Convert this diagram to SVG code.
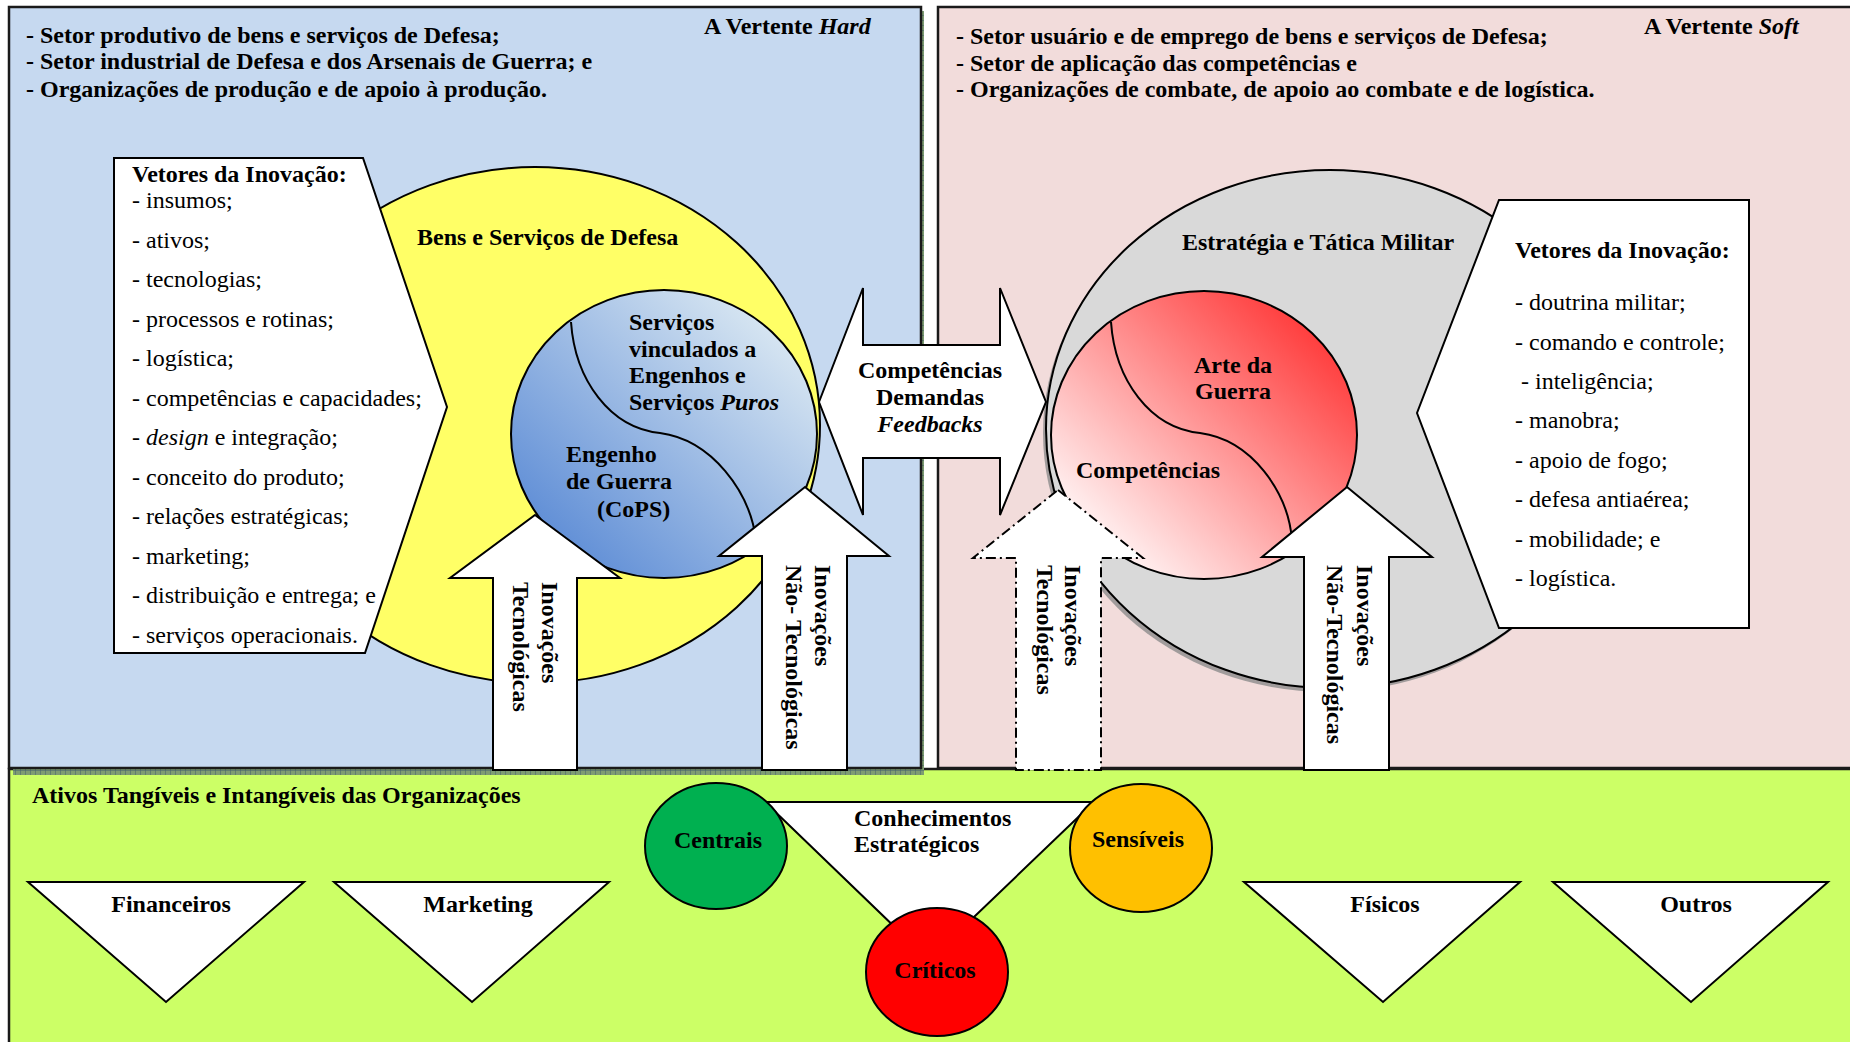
<svg xmlns="http://www.w3.org/2000/svg" width="1850" height="1042" viewBox="0 0 1850 1042">
<defs>
  <linearGradient id="gBlue" x1="0.1" y1="0.9" x2="0.9" y2="0.1">
    <stop offset="0" stop-color="#5A8AD5"/>
    <stop offset="1" stop-color="#DDEAF3"/>
  </linearGradient>
  <linearGradient id="gRed" x1="0.1" y1="0.9" x2="0.9" y2="0.1">
    <stop offset="0" stop-color="#FFFFFF"/>
    <stop offset="1" stop-color="#FF3333"/>
  </linearGradient>
  <pattern id="hatch" width="5" height="5" patternUnits="userSpaceOnUse">
    <rect width="5" height="5" fill="#7E9C72"/>
    <path d="M0,0H5M0,0V5" stroke="#41606C" stroke-width="1"/>
  </pattern>
</defs>
<style>
  text { font-family: "Liberation Serif", "Times New Roman", serif; font-size: 24px; fill: #000; }
  .b { font-weight: bold; }
  .i { font-style: italic; }
  .c { text-anchor: middle; }
  .ol { stroke: #000; stroke-width: 2; }
  .panel { stroke: #1a1a1a; stroke-width: 2.5; }
  .wh { fill: #FFFFFF; stroke: #000; stroke-width: 2; }
  .curve { fill: none; stroke: #000; stroke-width: 2; }
</style>

<g id="panels">
  <rect id="panel-green" x="9" y="769" width="1850" height="280" fill="#CCFF66" class="panel"/>
  <rect id="panel-pink" x="938" y="7" width="920" height="761" fill="#F2DCDB" class="panel"/>
  <rect x="13" y="11" width="911" height="764" fill="url(#hatch)"/>
  <rect id="panel-blue" x="9" y="7" width="912" height="761" fill="#C6D9F0" class="panel"/>
</g>

<g id="hard-header">
  <text class="b" x="26" y="43">- Setor produtivo de bens e serviços de Defesa;</text>
  <text class="b" x="26" y="69">- Setor industrial de Defesa e dos Arsenais de Guerra; e</text>
  <text class="b" x="26" y="97">- Organizações de produção e de apoio à produção.</text>
  <text class="b" x="704" y="34">A Vertente <tspan class="i">Hard</tspan></text>
</g>

<g id="soft-header">
  <text class="b" x="956" y="44">- Setor usuário e de emprego de bens e serviços de Defesa;</text>
  <text class="b" x="956" y="71">- Setor de aplicação das competências e</text>
  <text class="b" x="956" y="97">- Organizações de combate, de apoio ao combate e de logística.</text>
  <text class="b" x="1644" y="34">A Vertente <tspan class="i">Soft</tspan></text>
</g>

<g id="bens-servicos">
  <ellipse cx="535" cy="425" rx="285" ry="258" fill="#FFFF66" class="ol"/>
  <text class="b" x="417" y="245">Bens e Serviços de Defesa</text>
</g>

<g id="engenho">
  <ellipse cx="664" cy="434" rx="153" ry="144" fill="url(#gBlue)" class="ol"/>
  <path class="curve" d="M571,322 C575,380 610,428 660,433 C712,440 750,492 756,540"/>
  <text class="b" x="629" y="330">Serviços</text>
  <text class="b" x="629" y="357">vinculados a</text>
  <text class="b" x="629" y="383">Engenhos e</text>
  <text class="b" x="629" y="410">Serviços <tspan class="i">Puros</tspan></text>
  <text class="b" x="566" y="462">Engenho</text>
  <text class="b" x="566" y="489">de Guerra</text>
  <text class="b" x="597" y="517">(CoPS)</text>
</g>

<g id="vetores-hard">
  <polygon class="wh" points="114,158 363,158 447,407 365,653 114,653"/>
  <text class="b" x="132" y="182">Vetores da Inovação:</text>
  <text x="132" y="208">- insumos;</text>
  <text x="132" y="247.5">- ativos;</text>
  <text x="132" y="287">- tecnologias;</text>
  <text x="132" y="326.5">- processos e rotinas;</text>
  <text x="132" y="366">- logística;</text>
  <text x="132" y="405.5">- competências e capacidades;</text>
  <text x="132" y="445">- <tspan class="i">design</tspan> e integração;</text>
  <text x="132" y="484.5">- conceito do produto;</text>
  <text x="132" y="524">- relações estratégicas;</text>
  <text x="132" y="563.5">- marketing;</text>
  <text x="132" y="603">- distribuição e entrega; e</text>
  <text x="132" y="642.5">- serviços operacionais.</text>
</g>

<g id="estrategia">
  <ellipse cx="1327" cy="433" rx="284" ry="259" fill="#8C8C8C" opacity="0.8"/>
  <ellipse cx="1330" cy="429" rx="284" ry="259" fill="#D9D9D9" class="ol"/>
  <text class="b" x="1182" y="250">Estratégia e Tática Militar</text>
</g>

<g id="arte-guerra">
  <ellipse cx="1204" cy="435" rx="153" ry="144" fill="url(#gRed)" class="ol"/>
  <path class="curve" d="M1111,322 C1115,380 1150,428 1200,433 C1252,440 1288,492 1292,540"/>
  <text class="b c" x="1233" y="373">Arte da</text>
  <text class="b c" x="1233" y="399">Guerra</text>
  <text class="b" x="1076" y="478">Competências</text>
</g>

<g id="vetores-soft">
  <polygon class="wh" points="1499,200 1749,200 1749,628 1499,628 1417,413"/>
  <text class="b" x="1515" y="258">Vetores da Inovação:</text>
  <text x="1515" y="310">- doutrina militar;</text>
  <text x="1515" y="350">- comando e controle;</text>
  <text x="1521" y="389">- inteligência;</text>
  <text x="1515" y="428">- manobra;</text>
  <text x="1515" y="468">- apoio de fogo;</text>
  <text x="1515" y="507">- defesa antiaérea;</text>
  <text x="1515" y="547">- mobilidade; e</text>
  <text x="1515" y="586">- logística.</text>
</g>

<g id="connectors">
  <g id="arrow-competencias">
    <polygon class="wh" points="819,402 863,288 863,345 1000,345 1000,288 1046,402 1000,515 1000,458 863,458 863,515"/>
    <text class="b c" x="930" y="378">Competências</text>
    <text class="b c" x="930" y="405">Demandas</text>
    <text class="b c i" x="930" y="432">Feedbacks</text>
  </g>
  <g id="arrow-tec-hard">
    <polygon class="wh" points="535,515 620,578 577,578 577,770 493,770 493,578 450,578"/>
    <text class="b" transform="translate(542,582) rotate(90)">Inovações</text>
    <text class="b" transform="translate(513,582) rotate(90)">Tecnológicas</text>
  </g>
  <g id="arrow-naotec-hard">
    <polygon class="wh" points="805,487 889,556 847,556 847,770 762,770 762,556 719,556"/>
    <text class="b" transform="translate(815,565) rotate(90)">Inovações</text>
    <text class="b" transform="translate(786,565) rotate(90)">Não- Tecnológicas</text>
  </g>
  <g id="arrow-tec-soft">
    <polygon points="1058,490 1143,558 1101,558 1101,770 1016,770 1016,558 973,558" fill="#FFFFFF" stroke="#000" stroke-width="2" stroke-dasharray="10,4,2,4"/>
    <text class="b" transform="translate(1065,565) rotate(90)">Inovações</text>
    <text class="b" transform="translate(1037,565) rotate(90)">Tecnológicas</text>
  </g>
  <g id="arrow-naotec-soft">
    <polygon class="wh" points="1347,487 1432,557 1389,557 1389,770 1304,770 1304,557 1262,557"/>
    <text class="b" transform="translate(1357,565) rotate(90)">Inovações</text>
    <text class="b" transform="translate(1327,565) rotate(90)">Não-Tecnológicas</text>
  </g>
</g>

<g id="ativos">
  <text class="b" x="32" y="803">Ativos Tangíveis e Intangíveis das Organizações</text>
  <g id="financeiros">
    <polygon class="wh" points="28,882 304,882 166,1002"/>
    <text class="b c" x="171" y="912">Financeiros</text>
  </g>
  <g id="marketing">
    <polygon class="wh" points="334,882 609,882 472,1002"/>
    <text class="b c" x="478" y="912">Marketing</text>
  </g>
  <g id="fisicos">
    <polygon class="wh" points="1244,882 1520,882 1383,1002"/>
    <text class="b c" x="1385" y="912">Físicos</text>
  </g>
  <g id="outros">
    <polygon class="wh" points="1553,882 1828,882 1691,1002"/>
    <text class="b c" x="1696" y="912">Outros</text>
  </g>
  <g id="conhecimentos">
    <polygon class="wh" points="765,802 1094,802 929,960"/>
    <text class="b" x="854" y="826">Conhecimentos</text>
    <text class="b" x="854" y="852">Estratégicos</text>
  </g>
  <g id="centrais">
    <ellipse cx="716" cy="846" rx="71" ry="63" fill="#00B050" class="ol"/>
    <text class="b c" x="718" y="848">Centrais</text>
  </g>
  <g id="sensiveis">
    <ellipse cx="1141" cy="848" rx="71" ry="64" fill="#FFC000" class="ol"/>
    <text class="b c" x="1138" y="847">Sensíveis</text>
  </g>
  <g id="criticos">
    <ellipse cx="937" cy="972" rx="71" ry="64" fill="#FF0000" class="ol"/>
    <text class="b c" x="935" y="978">Críticos</text>
  </g>
</g>
</svg>
